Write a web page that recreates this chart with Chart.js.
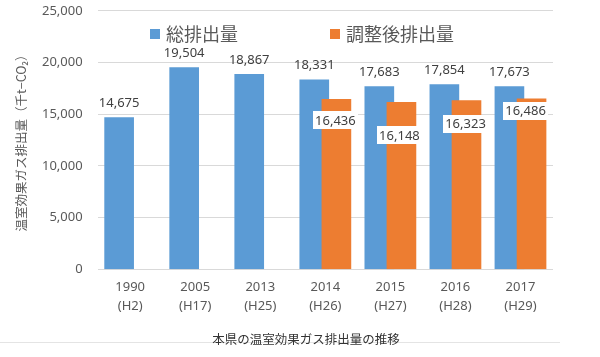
<!DOCTYPE html>
<html>
<head>
<meta charset="utf-8">
<script src="https://cdn.jsdelivr.net/npm/chart.js@4/dist/chart.umd.min.js"></script>
<style>
html,body{margin:0;padding:0;background:#fff;}
#wrap{width:600px;height:357px;}
</style>
</head>
<body>
<div id="wrap"><canvas id="c" width="600" height="357"></canvas></div>
<script>
// ---- data ----
const years = ['1990', '2005', '2013', '2014', '2015', '2016', '2017'];
const eras = ['(H2)', '(H17)', '(H25)', '(H26)', '(H27)', '(H28)', '(H29)'];
const totalEmissions = [14675, 19504, 18867, 18331, 17683, 17854, 17673];
const adjustedEmissions = [null, null, null, 16436, 16148, 16323, 16486];
const seriesNames = ['総排出量', '調整後排出量'];
const yAxisTitle = '温室効果ガス排出量（千t−CO₂）';
const chartTitle = '本県の温室効果ガス排出量の推移';

// ---- style ----
const BLUE = '#5B9BD5';
const ORANGE = '#ED7D31';
const NUM_FONT = '"Noto Sans", "Open Sans", sans-serif';
const JP_FONT = '"Noto Sans CJK JP", "Noto Sans", sans-serif';
const GROUP_SHIFT = 0.17;           // overlap-style group offset (category units)
const adjLabelDx = [0, 0, 0, -1, -2, -1, -6];   // label nudges for adjusted labels
const adjLabelDy = [0, 0, 0, 21, 33, 23, 12];

const fmt = v => v.toLocaleString('en-US');

const labelPlugin = {
  id: 'labels',
  beforeDraw(chart) {
    const ctx = chart.ctx;
    ctx.save();
    ctx.strokeStyle = '#e4e4e4';
    ctx.lineWidth = 1;
    ctx.beginPath();
    ctx.moveTo(0, 342.5);
    ctx.lineTo(560, 342.5);
    ctx.stroke();
    ctx.restore();
  },
  afterDatasetsDraw(chart) {
    const ctx = chart.ctx;
    ctx.save();
    ctx.font = '13px ' + NUM_FONT;
    ctx.textAlign = 'center';
    ctx.textBaseline = 'middle';
    const m0 = chart.getDatasetMeta(0);
    m0.data.forEach((bar, i) => {
      const v = totalEmissions[i];
      if (v == null) return;
      ctx.fillStyle = '#404040';
      ctx.fillText(fmt(v), bar.x, bar.y - 14);
    });
    const m1 = chart.getDatasetMeta(1);
    m1.data.forEach((bar, i) => {
      const v = adjustedEmissions[i];
      if (v == null) return;
      const t = fmt(v);
      const w = ctx.measureText(t).width + 4;
      const h = 18;
      const cx = bar.x + adjLabelDx[i];
      const cy = bar.y + adjLabelDy[i];
      ctx.fillStyle = '#ffffff';
      ctx.fillRect(Math.round(cx - w / 2), Math.round(cy - h / 2), Math.round(w), h);
      ctx.fillStyle = '#404040';
      ctx.fillText(t, cx, cy + 0.5);
    });
    ctx.restore();
  },
  afterDraw(chart) {
    const ctx = chart.ctx;
    ctx.save();
    const items = [
      {x: 150, color: BLUE, text: seriesNames[0]},
      {x: 330, color: ORANGE, text: seriesNames[1]}
    ];
    ctx.font = '18px ' + JP_FONT;
    ctx.textBaseline = 'middle';
    ctx.textAlign = 'left';
    items.forEach(it => {
      ctx.fillStyle = it.color;
      ctx.fillRect(it.x, 29, 10, 10);
      ctx.fillStyle = '#595959';
      ctx.fillText(it.text, it.x + 16, 34);
    });
    ctx.font = '12.5px ' + JP_FONT;
    ctx.textAlign = 'center';
    ctx.fillStyle = '#333333';
    ctx.fillText(chartTitle, 306, 339);
    ctx.restore();
  }
};

new Chart(document.getElementById('c'), {
  type: 'bar',
  data: {
    datasets: [
      {
        label: seriesNames[0],
        data: totalEmissions.map((v, i) => ({x: i - GROUP_SHIFT, y: v})),
        backgroundColor: BLUE,
        barThickness: 29,
        grouped: false,
        order: 1
      },
      {
        label: seriesNames[1],
        data: adjustedEmissions.map((v, i) => ({x: i + GROUP_SHIFT, y: v})),
        backgroundColor: ORANGE,
        barThickness: 29,
        grouped: false,
        order: 0
      }
    ]
  },
  options: {
    responsive: false,
    animation: false,
    devicePixelRatio: 1,
    layout: {padding: {top: 0, right: 47, bottom: 32, left: 0}},
    plugins: {
      legend: {display: false},
      tooltip: {enabled: false},
      title: {display: false}
    },
    scales: {
      x: {
        type: 'linear',
        min: -0.5,
        max: years.length - 0.5,
        offset: false,
        grid: {display: false, drawTicks: false},
        border: {display: false},
        afterBuildTicks: ax => { ax.ticks = years.map((_, i) => ({value: i})); },
        ticks: {
          autoSkip: false,
          maxRotation: 0,
          padding: 9,
          color: '#595959',
          font: {family: NUM_FONT, size: 13, lineHeight: 1.45},
          callback: v => [years[v], eras[v]]
        }
      },
      y: {
        min: 0,
        max: 25000,
        grid: {color: '#d9d9d9', drawTicks: true, tickLength: 12, tickColor: 'rgba(0,0,0,0)'},
        border: {display: false},
        ticks: {
          stepSize: 5000,
          padding: 3,
          color: '#595959',
          font: {family: NUM_FONT, size: 13},
          callback: v => fmt(v)
        },
        title: {
          display: true,
          text: yAxisTitle,
          color: '#595959',
          font: {family: JP_FONT, size: 12.5},
          padding: {top: 14, bottom: 10}
        }
      }
    }
  },
  plugins: [labelPlugin]
});
</script>
</body>
</html>
